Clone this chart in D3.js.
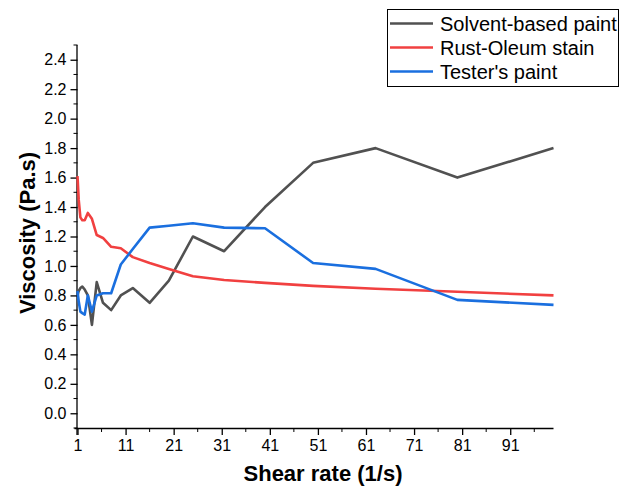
<!DOCTYPE html>
<html><head><meta charset="utf-8">
<script src="https://cdn.jsdelivr.net/npm/d3@7/dist/d3.min.js"></script>
<style>body{margin:0;background:#fff}svg{display:block}text{font-family:"Liberation Sans",Arial,sans-serif}</style>
</head><body><svg id="c" width="629" height="490"></svg>
<script>
const shearRate = [1, 1.25, 1.6, 2, 2.5, 3.15, 4, 5, 6.3, 8, 10, 12.5, 16, 20, 25, 31.5, 40, 50, 63, 80, 100];
const solventBased = [0.80, 0.83, 0.85, 0.86, 0.84, 0.80, 0.60, 0.89, 0.75, 0.70, 0.80, 0.85, 0.75, 0.90, 1.20, 1.10, 1.40, 1.70, 1.80, 1.60, 1.80];
const rustOleum = [1.61, 1.45, 1.33, 1.31, 1.31, 1.36, 1.32, 1.21, 1.19, 1.13, 1.12, 1.06, 1.02, 0.98, 0.93, 0.905, 0.885, 0.865, 0.845, 0.825, 0.80];
const testers = [0.83, 0.76, 0.69, 0.68, 0.67, 0.80, 0.69, 0.80, 0.815, 0.815, 1.01, 1.115, 1.26, 1.273, 1.29, 1.26, 1.256, 1.02, 0.98, 0.77, 0.736];
const seriesNames = ["Solvent-based paint", "Rust-Oleum stain", "Tester's paint"];
const seriesColors = ["#515151", "#F14040", "#1A6FDF"];
const xTicks = [1, 11, 21, 31, 41, 51, 61, 71, 81, 91];
const yTicks = [0, 0.2, 0.4, 0.6, 0.8, 1.0, 1.2, 1.4, 1.6, 1.8, 2.0, 2.2, 2.4];

const svg = d3.select("#c");
const L = 77.5, R = 553.5, T = 45, B = 428;
const x = d3.scaleLinear().domain([1, 100]).range([L, R]);
const y = d3.scaleLinear().domain([-0.1, 2.5]).range([B, T]);

const xMinor = d3.range(6, 100, 10);
const yMinor = d3.range(-0.1, 2.51, 0.2).map(v => +v.toFixed(2));

const gx = svg.append("g").attr("transform", `translate(0,${B})`);
gx.call(d3.axisBottom(x).tickValues(xTicks).tickFormat(d3.format("d")).tickSize(7).tickSizeOuter(0));
gx.selectAll("line.minor").data(xMinor).enter().append("line")
  .attr("x1", d => x(d)).attr("x2", d => x(d)).attr("y1", 0).attr("y2", 4).attr("stroke", "#000");
gx.select(".domain").attr("d", `M${L-3},0.5H${R}`);

const gy = svg.append("g").attr("transform", `translate(${L},0)`);
gy.call(d3.axisLeft(y).tickValues(yTicks).tickFormat(d3.format(".1f")).tickSize(7).tickSizeOuter(0));
gy.selectAll("line.minor").data(yMinor).enter().append("line")
  .attr("x1", 0).attr("x2", -4).attr("y1", d => y(d)).attr("y2", d => y(d)).attr("stroke", "#000");
gy.select(".domain").attr("d", `M-0.5,${T}V${B+7}`);

svg.selectAll(".tick text").attr("font-size", 16).attr("fill", "#000").attr("font-family", "Liberation Sans, Arial, sans-serif");
gx.selectAll(".tick text").attr("dy", "1em").attr("y", 7);
gy.selectAll(".tick text").attr("x", -11);
svg.selectAll(".domain, .tick line").attr("stroke", "#000").attr("stroke-width", 1.3);

const all = [solventBased, rustOleum, testers];
const line = d3.line().x((d, i) => x(shearRate[i])).y(d => y(d));
all.forEach((s, k) => {
  svg.append("path").datum(s).attr("d", line).attr("fill", "none")
    .attr("stroke", seriesColors[k]).attr("stroke-width", 2.6).attr("stroke-linejoin", "round");
});

svg.append("text").attr("x", 323).attr("y", 481).attr("text-anchor", "middle")
  .attr("font-size", 22).attr("font-weight", "bold").text("Shear rate (1/s)");
svg.append("text").attr("transform", "translate(35,233) rotate(-90)").attr("text-anchor", "middle")
  .attr("font-size", 22).attr("font-weight", "bold").text("Viscosity (Pa.s)");

const lg = svg.append("g");
lg.append("rect").attr("x", 387.5).attr("y", 9.5).attr("width", 231).attr("height", 77)
  .attr("fill", "#fff").attr("stroke", "#000").attr("stroke-width", 1);
seriesNames.forEach((n, k) => {
  const yy = 23.5 + k * 24;
  lg.append("line").attr("x1", 390).attr("x2", 433).attr("y1", yy).attr("y2", yy)
    .attr("stroke", seriesColors[k]).attr("stroke-width", 2.6);
  lg.append("text").attr("x", 440).attr("y", yy + 7).attr("font-size", 20).text(n);
});
</script></body></html>
